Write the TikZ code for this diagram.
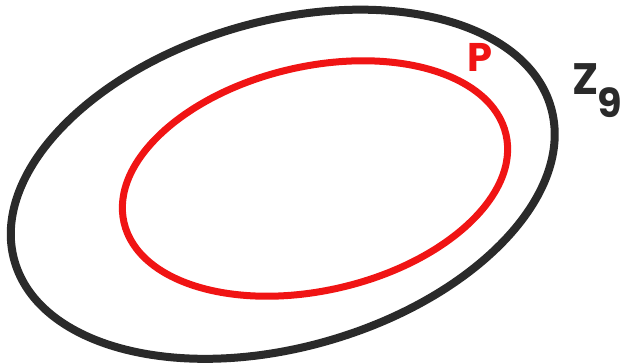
\documentclass[tikz,border=0pt]{standalone}
\usepackage{fontspec}
\newfontfamily\labfont{Poppins}
\definecolor{ink}{RGB}{42,42,42}
\definecolor{pred}{RGB}{240,20,20}
\begin{document}
\begin{tikzpicture}[x=1pt,y=1pt,
  outerset/.style={draw=ink,line width=8pt},
  innerset/.style={draw=pred,line width=7pt},
  lab/.style={inner sep=0pt,anchor=base west,font=\labfont\bfseries}]
\useasboundingbox (0,0) rectangle (622,364);
\coordinate (co) at (282.75,179.75);
\coordinate (ci) at (315,185.5);
\draw[outerset,rotate around={16:(co)}] (co) ellipse [x radius=279,y radius=163];
\draw[innerset,rotate around={13:(ci)}] (ci) ellipse [x radius=196,y radius=112];
\node[lab,text=pred,font=\labfont\bfseries\fontsize{40}{40}\selectfont] (p) at (467,292) {P};
\node[lab,text=ink,font=\labfont\bfseries\fontsize{44}{44}\selectfont] (z) at (572,269) {Z\kern-1pt\raisebox{-23pt}{\fontsize{40}{40}\selectfont 9}};
\end{tikzpicture}
\end{document}
